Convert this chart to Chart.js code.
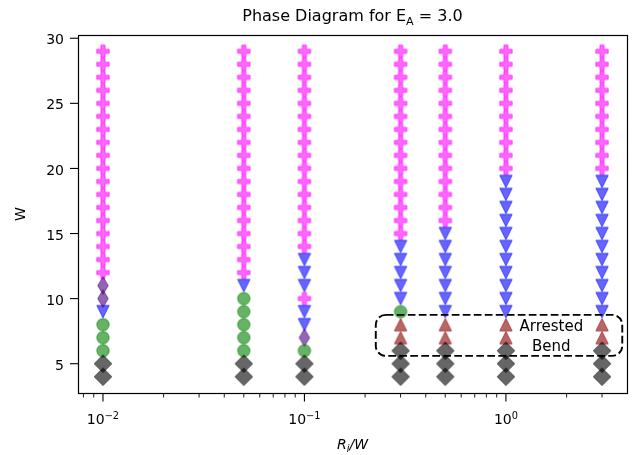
<!DOCTYPE html>
<html>
<head>
<meta charset="utf-8">
<script src="https://cdn.jsdelivr.net/npm/chart.js@4.4.1/dist/chart.umd.min.js"></script>
<style>
  html, body { margin: 0; padding: 0; background: #fff; }
  #wrap { width: 634px; height: 455px; position: relative; }
</style>
</head>
<body>
<div id="wrap"><canvas id="phase-chart"></canvas></div>
<script>
// x categories (R_i / W) and the W values sampled in every column
const ratios = [0.01, 0.05, 0.1, 0.3, 0.5, 1.0, 3.0];
const widths = [4, 5, 6, 7, 8, 9, 10, 11, 12, 13, 14, 15, 16, 17, 18, 19, 20, 21, 22, 23, 24, 25, 26, 27, 28, 29];

// phase seen at each W (bottom to top, W = 4..29), grouped by 5 for reading
// D = gray diamond, O = green circle, A = arrested (red up triangle),
// V = blue down triangle, T = purple thin diamond, P = pink plus
const phase001 = 'DDOOO VTTPP PPPPP PPPPP PPPPP P';
const phase005 = 'DDOOO OOVPP PPPPP PPPPP PPPPP P';
const phase01  = 'DDOTV VPVVV PPPPP PPPPP PPPPP P';
const phase03  = 'DDDAA OVVVV VPPPP PPPPP PPPPP P';
const phase05  = 'DDDAA VVVVV VVPPP PPPPP PPPPP P';
const phase1   = 'DDDAA VVVVV VVVVV VPPPP PPPPP P';
const phase3   = 'DDDAA VVVVV VVVVV VPPPP PPPPP P';
const columns = [phase001, phase005, phase01, phase03, phase05, phase1, phase3].map(s => s.replace(/ /g, ''));

// axis ticks
const yTicks = [5, 10, 15, 20, 25, 30];
const xMajorTicks = [0.01, 0.1, 1];
const xTickExponents = ['\u22122', '\u22121', '0'];

// annotation (data coords)
const bendBox = { xMin: 0.226, xMax: 3.78, yMin: 5.6, yMax: 8.75 };
const bendText = { x: 1.68, y: 7.15, lines: ['Arrested', 'Bend'] };

const FONT = '"DejaVu Sans", Verdana, sans-serif';
const S = 12.4; // marker size px

function markerCanvas(kind, color) {
  const c = document.createElement('canvas');
  c.width = 26; c.height = 26;
  const g = c.getContext('2d');
  g.translate(13, 13);
  const h = S / 2;
  g.beginPath();
  if (kind === 'circle') {
    g.arc(0, 0, h, 0, Math.PI * 2);
  } else if (kind === 'diamond' || kind === 'thin') {
    const d = S * Math.SQRT1_2;
    const w = kind === 'thin' ? d * 0.6 : d;
    g.moveTo(0, -d); g.lineTo(w, 0); g.lineTo(0, d); g.lineTo(-w, 0); g.closePath();
  } else if (kind === 'down') {
    g.moveTo(-h, -h); g.lineTo(h, -h); g.lineTo(0, h); g.closePath();
  } else if (kind === 'up') {
    g.moveTo(-h, h); g.lineTo(h, h); g.lineTo(0, -h); g.closePath();
  } else if (kind === 'plus') {
    const a = S / 6;
    const pts = [[-a, -h], [a, -h], [a, -a], [h, -a], [h, a], [a, a], [a, h], [-a, h], [-a, a], [-h, a], [-h, -a], [-a, -a]];
    pts.forEach((p, i) => i ? g.lineTo(p[0], p[1]) : g.moveTo(p[0], p[1]));
    g.closePath();
  }
  g.fillStyle = color;
  g.fill();
  g.lineWidth = 1.0;
  g.lineJoin = 'miter';
  g.strokeStyle = color;
  g.stroke();
  return c;
}

const phaseStyles = {
  D: markerCanvas('diamond', 'rgba(0,0,0,0.6)'),
  O: markerCanvas('circle', 'rgba(0,128,0,0.6)'),
  A: markerCanvas('up', 'rgba(139,0,0,0.6)'),
  T: markerCanvas('thin', 'rgba(75,0,130,0.6)'),
  V: markerCanvas('down', 'rgba(0,0,255,0.6)'),
  P: markerCanvas('plus', 'rgba(255,0,255,0.6)')
};
const drawOrder = ['D', 'O', 'A', 'T', 'V', 'P'];

const datasets = drawOrder.map(code => {
  const pts = [];
  ratios.forEach((r, i) => {
    widths.forEach((w, j) => {
      if (columns[i][j] === code) pts.push({ x: r, y: w });
    });
  });
  return { label: code, data: pts, pointStyle: phaseStyles[code], pointRadius: 6, showLine: false };
});

// matplotlib-like 5% margins
const lx0 = Math.log10(ratios[0]), lx1 = Math.log10(ratios[ratios.length - 1]);
const xm = (lx1 - lx0) * 0.05;
const ym = (widths[widths.length - 1] - widths[0]) * 0.05;

const axesPlugin = {
  id: 'axesPlugin',
  afterDatasetsDraw(chart) {
    const ctx = chart.ctx;
    const a = chart.chartArea;
    const xs = chart.scales.x, ys = chart.scales.y;
    ctx.save();

    // annotation box + text
    const bx0 = xs.getPixelForValue(bendBox.xMin), bx1 = xs.getPixelForValue(bendBox.xMax);
    const by0 = ys.getPixelForValue(bendBox.yMax), by1 = ys.getPixelForValue(bendBox.yMin);
    ctx.beginPath();
    ctx.roundRect(bx0, by0, bx1 - bx0, by1 - by0, 10);
    ctx.setLineDash([7.7, 3.3]);
    ctx.lineWidth = 1.9;
    ctx.strokeStyle = '#000';
    ctx.stroke();
    ctx.setLineDash([]);
    ctx.fillStyle = '#000';
    ctx.font = '15px ' + FONT;
    ctx.textAlign = 'center';
    ctx.textBaseline = 'alphabetic';
    const tx = xs.getPixelForValue(bendText.x), ty = ys.getPixelForValue(bendText.y);
    bendText.lines.forEach((t, i) => {
      ctx.fillText(t, tx, ty + (i - (bendText.lines.length - 1) / 2) * 20 + 5.5);
    });

    // frame
    ctx.lineWidth = 1.2;
    ctx.strokeStyle = '#000';
    ctx.strokeRect(a.left + 0.5, a.top + 0.5, a.right - a.left, a.bottom - a.top);

    // y ticks and labels
    ctx.font = '14px ' + FONT;
    ctx.textAlign = 'right';
    ctx.lineWidth = 1.1;
    yTicks.forEach(v => {
      const y = ys.getPixelForValue(v);
      ctx.beginPath();
      ctx.moveTo(a.left + 0.5, y); ctx.lineTo(a.left - 8, y);
      ctx.stroke();
      ctx.fillText(String(v), a.left - 14, y + 6.1);
    });

    // x ticks: major + minor (log)
    const bottom = a.bottom + 0.5;
    for (let k = -3; k <= 1; k++) {
      for (let m = 1; m <= 9; m++) {
        const v = m * Math.pow(10, k);
        if (v < xs.min || v > xs.max) continue;
        const x = xs.getPixelForValue(v);
        ctx.lineWidth = m === 1 ? 1.1 : 0.9;
        ctx.beginPath();
        ctx.moveTo(x, bottom); ctx.lineTo(x, bottom + (m === 1 ? 8 : 4));
        ctx.stroke();
      }
    }
    ctx.textAlign = 'left';
    xMajorTicks.forEach((v, i) => {
      const x = xs.getPixelForValue(v);
      ctx.font = '14px ' + FONT;
      const w1 = ctx.measureText('10').width;
      ctx.font = '9.8px ' + FONT;
      const w2 = ctx.measureText(xTickExponents[i]).width;
      const x0 = x - (w1 + w2) / 2;
      ctx.font = '14px ' + FONT;
      ctx.fillText('10', x0, 424);
      ctx.font = '9.8px ' + FONT;
      ctx.fillText(xTickExponents[i], x0 + w1, 418.5);
    });

    // title with subscript
    const parts = [['Phase Diagram for E', 16, 0], ['A', 11.2, 3.5], [' = 3.0', 16, 0]];
    let total = 0;
    parts.forEach(p => { ctx.font = p[1] + 'px ' + FONT; total += ctx.measureText(p[0]).width; });
    let cx = (a.left + a.right) / 2 - total / 2;
    parts.forEach(p => {
      ctx.font = p[1] + 'px ' + FONT;
      ctx.fillText(p[0], cx, 21 + p[2]);
      cx += ctx.measureText(p[0]).width;
    });

    // x label R_i/W
    const xl = [['R', 14, 0], ['i', 9.8, 2.6], ['/W', 14, 0]];
    total = 0;
    xl.forEach(p => { ctx.font = 'italic ' + p[1] + 'px ' + FONT; total += ctx.measureText(p[0]).width; });
    cx = (a.left + a.right) / 2 - total / 2;
    xl.forEach(p => {
      ctx.font = 'italic ' + p[1] + 'px ' + FONT;
      ctx.fillText(p[0], cx, 449 + p[2]);
      cx += ctx.measureText(p[0]).width;
    });

    // y label W
    ctx.font = '14px ' + FONT;
    ctx.textAlign = 'center';
    ctx.translate(24.6, (a.top + a.bottom) / 2);
    ctx.rotate(-Math.PI / 2);
    ctx.fillText('W', 0, 0);
    ctx.restore();
  }
};

new Chart(document.getElementById('phase-chart'), {
  type: 'scatter',
  data: { datasets: datasets },
  options: {
    responsive: true,
    maintainAspectRatio: false,
    animation: false,
    layout: { padding: { left: 78, right: 4, top: 35, bottom: 62 } },
    plugins: { legend: { display: false }, tooltip: { enabled: false }, title: { display: false } },
    scales: {
      x: {
        type: 'logarithmic',
        display: false,
        min: Math.pow(10, lx0 - xm),
        max: Math.pow(10, lx1 + xm)
      },
      y: {
        type: 'linear',
        display: false,
        min: widths[0] - ym,
        max: widths[widths.length - 1] + ym
      }
    }
  },
  plugins: [axesPlugin]
});
</script>
</body>
</html>
